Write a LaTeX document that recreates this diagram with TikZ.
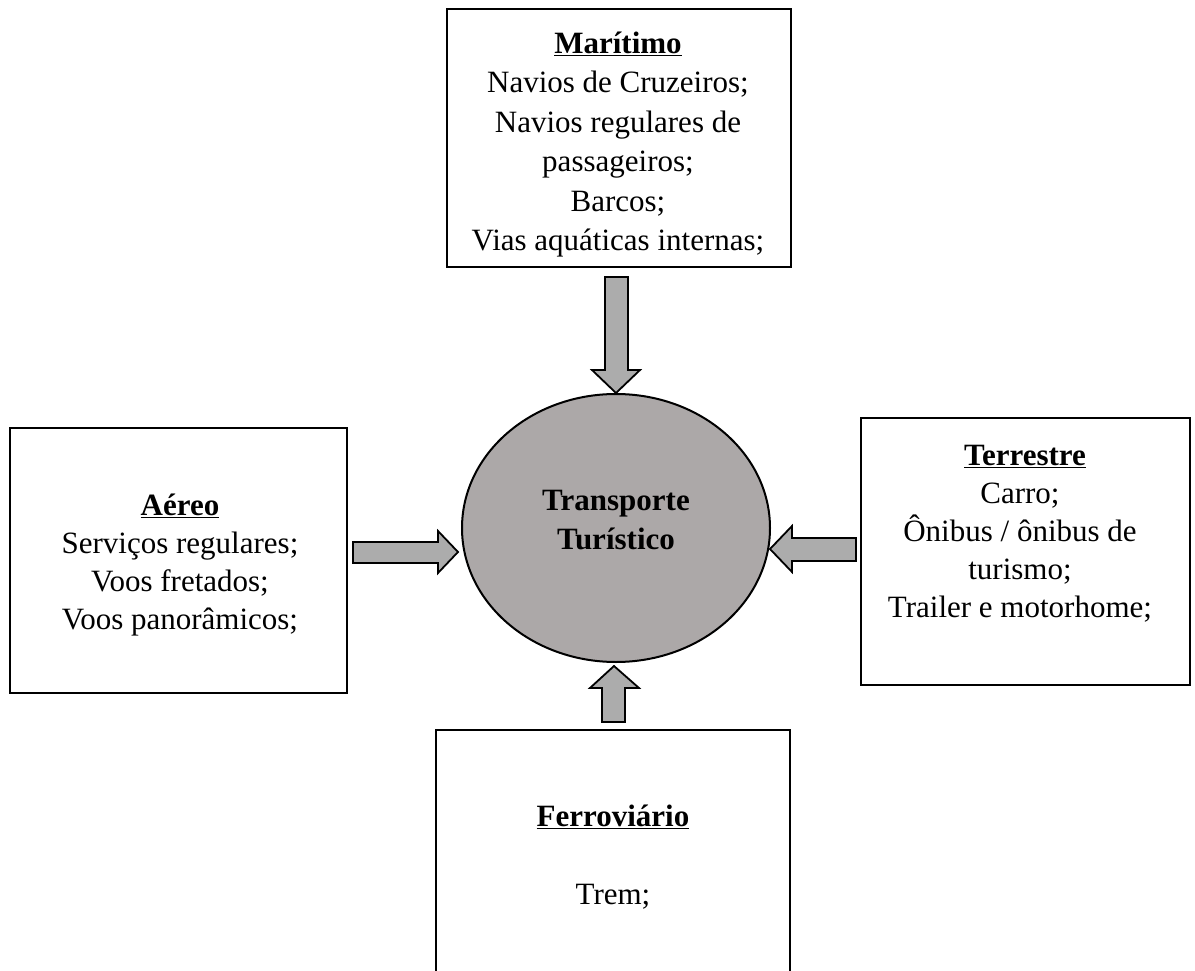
\documentclass[tikz,border=0pt]{standalone}
\usepackage{fontspec}
\setmainfont{Liberation Serif}
\definecolor{ellgray}{RGB}{172,168,168}
\definecolor{arrgray}{RGB}{172,172,172}
\begin{document}
\begin{tikzpicture}[x=1pt,y=-1pt,
  box/.style={draw=black,line width=2.2pt,fill=white},
  txt/.style={align=center,inner sep=0pt},
  blockarrow/.style={draw=black,line width=1.8pt,fill=arrgray,line join=miter}]
\clip (0,0) rectangle (1195,971);
\fill[white] (0,0) rectangle (1195,971);
% boxes
\draw[box] (447,9) rectangle (791,267);
\node[txt,font=\fontsize{31}{39.4}\selectfont] (mar) at (618,144.5) {\underline{\textbf{Marítimo}}\\Navios de Cruzeiros;\\Navios regulares de\\passageiros;\\Barcos;\\Vias aquáticas internas;};
\draw[box] (10,428) rectangle (347,693);
\node[txt,font=\fontsize{31}{37.8}\selectfont] (aer) at (180,565) {\underline{\textbf{Aéreo}}\\Serviços regulares;\\Voos fretados;\\Voos panorâmicos;};
\draw[box] (861,418) rectangle (1190,685);
\node[txt,font=\fontsize{31}{38}\selectfont] (ter) at (1020,534) {\hspace*{10pt}\underline{\textbf{Terrestre}}\\Carro;\\Ônibus / ônibus de\\turismo;\\Trailer e motorhome;};
\draw[box] (436,730) rectangle (790,1010);
\node[txt,font=\fontsize{31}{39}\selectfont] (fer) at (613,857) {\underline{\textbf{Ferroviário}}\\[39pt]Trem;};
% central ellipse
\draw[draw=black,line width=2pt,fill=ellgray] (616,528) ellipse [x radius=154,y radius=134];
\node[txt,font=\bfseries\fontsize{31}{39}\selectfont] (tt) at (616,520) {Transporte\\Turístico};
% block arrows
\draw[blockarrow] (605,277) -- (628,277) -- (628,370) -- (640,370) -- (616,393) -- (592,370) -- (605,370) -- cycle;
\draw[blockarrow] (353,542) -- (438,542) -- (438,531) -- (458,552) -- (438,573) -- (438,563) -- (353,563) -- cycle;
\draw[blockarrow] (856,538) -- (792,538) -- (792,526) -- (770,549) -- (792,572) -- (792,561) -- (856,561) -- cycle;
\draw[blockarrow] (602,722) -- (602,688) -- (590,688) -- (614,666) -- (639,688) -- (625,688) -- (625,722) -- cycle;
\end{tikzpicture}
\end{document}
